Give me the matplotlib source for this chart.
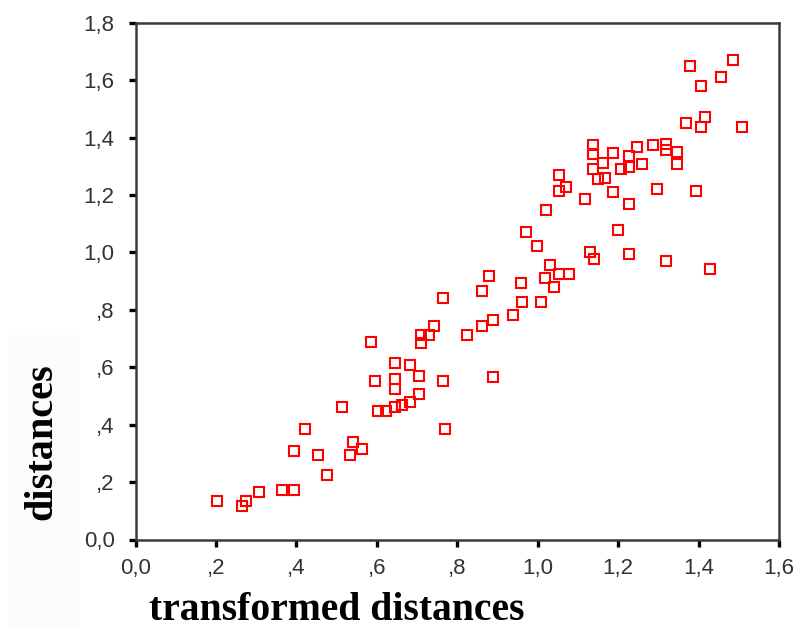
import matplotlib
matplotlib.use('Agg')
import matplotlib.pyplot as plt
from matplotlib import font_manager
from matplotlib.patches import Rectangle
from matplotlib.ticker import FuncFormatter

# transformed distances (x) and distances (y)
transformed = [
    1.486, 1.379, 1.455, 1.406, 1.417, 1.368, 1.406, 1.509,
    1.138, 1.138, 1.188, 1.248, 1.286, 1.319, 1.319, 1.346,
    1.226, 1.162, 1.138, 1.208, 1.228, 1.259, 1.346, 1.052,
    1.149, 1.167, 1.070, 1.052, 1.188, 1.297, 1.394, 1.118,
    1.226, 1.020, 0.971, 1.199, 0.998, 1.130, 1.140, 1.226,
    1.319, 1.428, 0.878, 0.959, 1.031, 1.019, 1.052, 1.079,
    1.041, 0.862, 0.960, 1.009, 0.938, 0.889, 0.862, 0.823,
    0.888, 0.764, 0.742, 0.709, 0.731, 0.709, 0.585, 0.644,
    0.683, 0.704, 0.595, 0.644, 0.764, 0.644, 0.704, 0.683,
    0.662, 0.644, 0.602, 0.624, 0.513, 0.770, 0.421, 0.393,
    0.454, 0.542, 0.533, 0.564, 0.476, 0.308, 0.365, 0.393,
    0.203, 0.264, 0.274,
]
distances = [
    1.670, 1.649, 1.610, 1.580, 1.473, 1.452, 1.436, 1.436,
    1.374, 1.343, 1.345, 1.367, 1.374, 1.378, 1.357, 1.351,
    1.336, 1.312, 1.290, 1.290, 1.299, 1.307, 1.307, 1.270,
    1.254, 1.260, 1.229, 1.214, 1.209, 1.221, 1.214, 1.185,
    1.167, 1.147, 1.070, 1.078, 1.023, 1.000, 0.978, 0.993,
    0.971, 0.941, 0.918, 0.895, 0.956, 0.912, 0.926, 0.926,
    0.881, 0.867, 0.826, 0.826, 0.782, 0.766, 0.744, 0.712,
    0.567, 0.842, 0.742, 0.712, 0.712, 0.683, 0.689, 0.615,
    0.607, 0.568, 0.553, 0.560, 0.553, 0.523, 0.508, 0.478,
    0.468, 0.460, 0.447, 0.447, 0.462, 0.385, 0.385, 0.308,
    0.294, 0.339, 0.294, 0.315, 0.225, 0.164, 0.172, 0.172,
    0.134, 0.118, 0.134,
]
x_ticks = [0.0, 0.2, 0.4, 0.6, 0.8, 1.0, 1.2, 1.4, 1.6]
y_ticks = [0.0, 0.2, 0.4, 0.6, 0.8, 1.0, 1.2, 1.4, 1.6, 1.8]


def spss_fmt(v, pos=None):
    # SPSS style: comma decimal, no leading zero below one
    s = '{:.1f}'.format(v).replace('.', ',')
    if 0 < v < 1:
        s = s[1:]
    return s


names = {f.name for f in font_manager.fontManager.ttflist}
tick_font = 'Liberation Sans Narrow' if 'Liberation Sans Narrow' in names else 'Liberation Sans'

fig = plt.figure(figsize=(7.94, 6.37), dpi=100)
fig.patches.append(Rectangle((8 / 794, 1 - 625 / 637), 70 / 794, 290 / 637,
                             transform=fig.transFigure, color='#fbfbfb', zorder=0))
ax = fig.add_axes([135.5 / 794, 1 - 539.5 / 637, (779 - 135.5) / 794, (539.5 - 22.7) / 637])

ax.plot(transformed, distances, linestyle='none', marker='s', markersize=6.8,
        markerfacecolor='none', markeredgecolor='#ff0000', markeredgewidth=1.5)

ax.set_xlim(0, 1.6)
ax.set_ylim(0, 1.8)
ax.set_xticks(x_ticks)
ax.set_yticks(y_ticks)
ax.xaxis.set_major_formatter(FuncFormatter(spss_fmt))
ax.yaxis.set_major_formatter(FuncFormatter(spss_fmt))
ax.tick_params(direction='out', length=5, width=2.4, color='black', labelsize=16)
ax.tick_params(axis='y', pad=10)
ax.tick_params(axis='x', pad=8)
for lbl in ax.get_xticklabels() + ax.get_yticklabels():
    lbl.set_fontfamily(tick_font)
    lbl.set_color('#333333')
for sp in ax.spines.values():
    sp.set_linewidth(1.8)
    sp.set_color('#3a3a3a')

fig.text(337 / 794, 1 - 611 / 637, 'transformed distances', ha='center', va='center',
         fontsize=28.5, fontweight='bold', family='Liberation Serif')
fig.text(42 / 794, 1 - 442 / 637, 'distances', ha='center', va='center', rotation=90,
         fontsize=29, fontweight='bold', family='Liberation Serif')

fig.savefig('out.png', dpi=100)
